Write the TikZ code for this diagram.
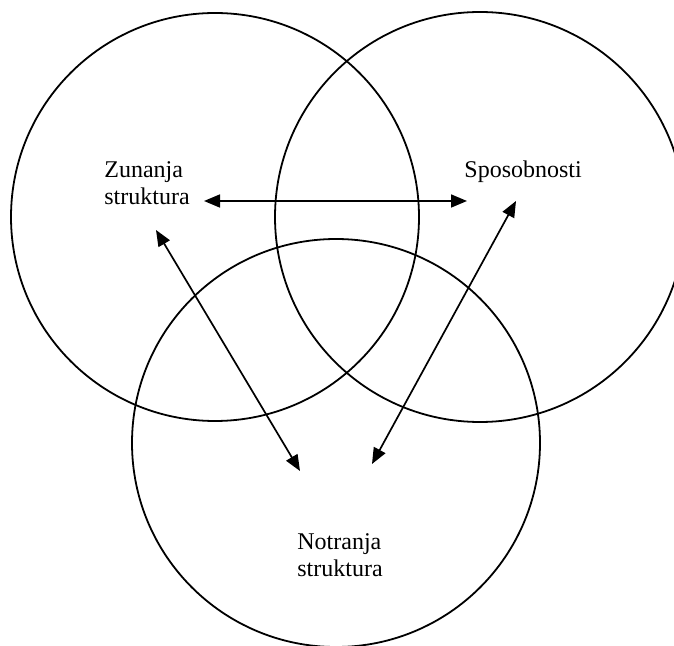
\documentclass[tikz,border=0pt]{standalone}
\usepackage{fontspec}
\setmainfont{Liberation Serif}
\usetikzlibrary{arrows.meta}
\begin{document}
\begin{tikzpicture}[x=0.5pt,y=-0.5pt,
  ring/.style={draw,circle,line width=0.9pt,inner sep=0pt,minimum size=#1},
  label/.style={anchor=base west,inner sep=0pt,align=left,
    font=\fontsize{12}{13.5}\selectfont},
  link/.style={line width=0.85pt,{Triangle[length=8pt,width=6.5pt]}-{Triangle[length=8pt,width=6.5pt]}}]
  \useasboundingbox (0,0) rectangle (674,646);
  % three overlapping circles
  \node[ring=204pt] (cz) at (215,217) {};
  \node[ring=205pt] (cs) at (480,217) {};
  \node[ring=204pt] (cn) at (336,443) {};
  % labels (base anchor sits on the last line)
  \node[label] (zun) at (104,205) {Zunanja\\struktura};
  \node[label] (spo) at (464,178) {Sposobnosti};
  \node[label] (not) at (297,576) {Notranja\\struktura};
  % arrow end points
  \coordinate (zr) at (204,201);
  \coordinate (sl) at (467,201);
  \coordinate (zb) at (156,230);
  \coordinate (sb) at (516,201);
  \coordinate (nl) at (300,471);
  \coordinate (nr) at (372,464);
  % connectors
  \draw[link] (zr) -- (sl);
  \draw[link] (zb) -- (nl);
  \draw[link] (sb) -- (nr);
\end{tikzpicture}
\end{document}
